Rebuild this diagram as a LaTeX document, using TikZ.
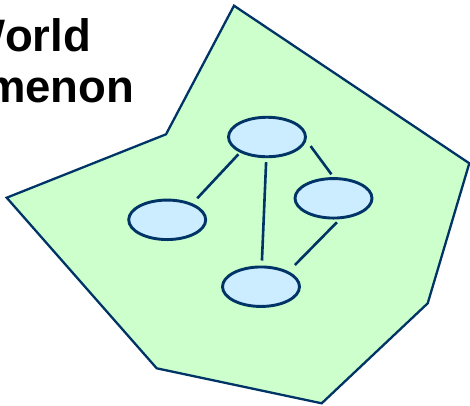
\documentclass[tikz,border=0pt]{standalone}
\usepackage{fontspec}
\setmainfont{Liberation Sans}
\usetikzlibrary{shapes.geometric}
\definecolor{navy}{RGB}{0,51,102}
\definecolor{mint}{RGB}{204,255,204}
\definecolor{sky}{RGB}{204,236,255}

\begin{document}
\begin{tikzpicture}[
    x=1pt, y=-1pt,
    region/.style={draw=navy, fill=mint, line width=2.3pt, line join=miter},
    entity/.style={ellipse, draw=navy, fill=sky, line width=2.9pt, minimum width=77pt, minimum height=39.5pt, inner sep=0pt},
    link/.style={draw=navy, line width=2.6pt},
    caption/.style={font=\fontsize{45.5}{51}\selectfont\bfseries, align=left, inner sep=0pt}
]
    \clip (0,0) rectangle (470,405);

    \draw[region] (234,5.7) -- (469.3,163.3) -- (427.7,303.3) -- (321.7,403.3)
        -- (156.7,368.3) -- (6.7,197.7) -- (166,134.3) -- cycle;

    \node[caption, anchor=north west] (title) at (-154,18) {\hspace*{8pt}Real World\\Phenomenon};

    \node[entity] (top) at (267,137) {};
    \node[entity] (left) at (167.2,219.8) {};
    \node[entity] (right) at (333.5,198.3) {};
    \node[entity] (bottom) at (261,286.7) {};

    \draw[link, shorten <=2.3pt, shorten >=7pt] (top.210) -- (left.33);
    \draw[link, shorten <=4pt, shorten >=5pt] (top.268) -- (bottom.88);
    \draw[link, shorten <=7pt, shorten >=3.5pt] (top.355) -- (right.90);
    \draw[link, shorten <=4.3pt, shorten >=9pt] (right.287) -- (bottom.29);
\end{tikzpicture}
\end{document}
